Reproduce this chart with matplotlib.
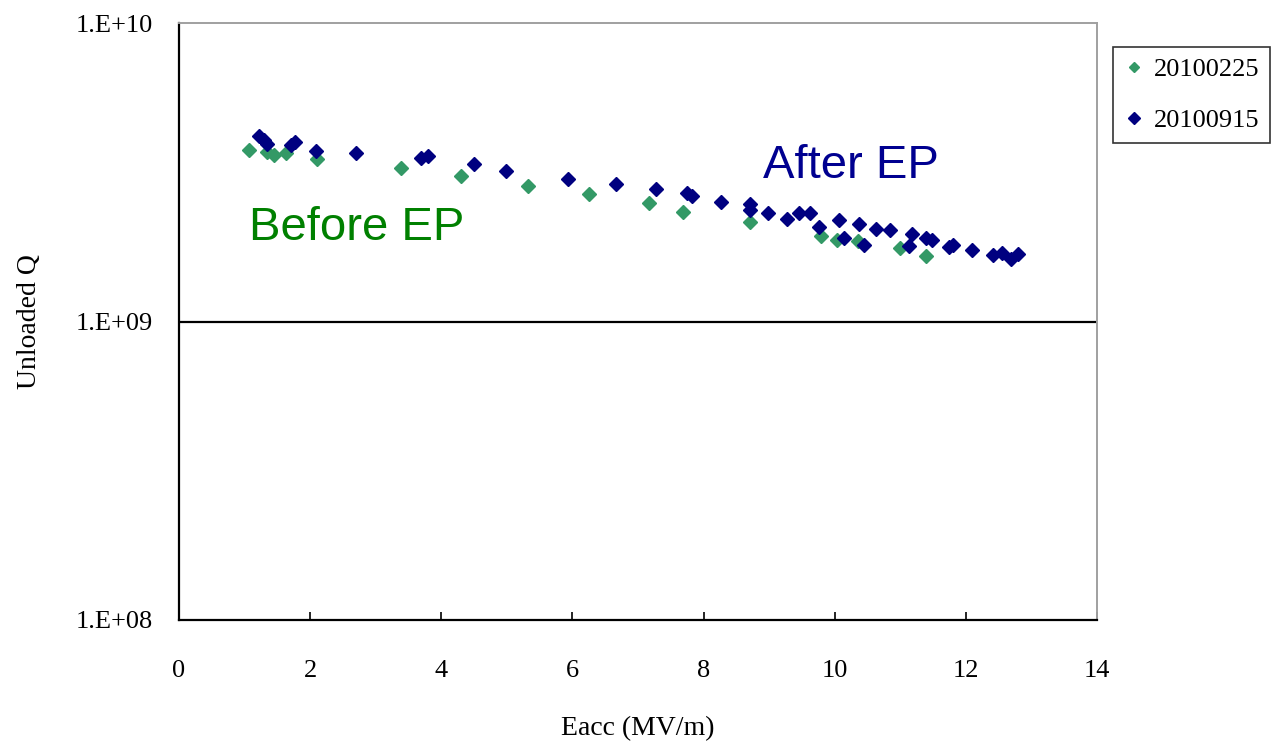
import numpy as np
import matplotlib as mpl
mpl.use('agg')
import matplotlib.pyplot as plt

## data
eacc_0225 = [1.07, 1.35, 1.45, 1.63, 2.10, 3.38, 4.30, 5.33, 6.25, 7.17, 7.68,
             8.71, 9.79, 10.04, 10.36, 11.00, 11.40]
q_0225 = [3.75e9, 3.70e9, 3.61e9, 3.68e9, 3.49e9, 3.28e9, 3.07e9, 2.85e9, 2.68e9,
          2.49e9, 2.33e9, 2.16e9, 1.93e9, 1.875e9, 1.86e9, 1.76e9, 1.66e9]

eacc_0915 = [1.22, 1.29, 1.35, 1.71, 1.77, 2.09, 2.70, 3.69, 3.80, 4.50, 4.98,
             5.93, 6.67, 7.27, 7.75, 7.82, 8.26, 8.71, 8.71, 8.98, 9.28, 9.45,
             9.63, 9.76, 10.07, 10.14, 10.37, 10.44, 10.63, 10.85, 11.14, 11.18,
             11.40, 11.48, 11.75, 11.81, 12.09, 12.41, 12.55, 12.69, 12.80]
q_0915 = [4.19e9, 4.05e9, 3.93e9, 3.91e9, 4.00e9, 3.73e9, 3.68e9, 3.52e9, 3.58e9,
          3.36e9, 3.20e9, 3.00e9, 2.88e9, 2.78e9, 2.69e9, 2.63e9, 2.51e9, 2.48e9,
          2.36e9, 2.31e9, 2.20e9, 2.31e9, 2.31e9, 2.08e9, 2.18e9, 1.91e9, 2.12e9,
          1.81e9, 2.04e9, 2.02e9, 1.79e9, 1.96e9, 1.90e9, 1.88e9, 1.78e9, 1.81e9,
          1.73e9, 1.67e9, 1.70e9, 1.62e9, 1.68e9]

labels = ['20100225', '20100915']
xticks = [0, 2, 4, 6, 8, 10, 12, 14]
yticks = [1e8, 1e9, 1e10]
ytick_labels = ['1.E+08', '1.E+09', '1.E+10']

serif = 'Liberation Serif'

##--##--##--  create figure  --##--##--##
fig = plt.figure(dpi=100, figsize=(12.83, 7.45))
ax = fig.add_axes([0.1395, 0.1678, 0.7155, 0.8013])

ax.plot(eacc_0225, q_0225, linestyle='none', marker='D', ms=6.9,
        color='#339966', label=labels[0], zorder=3)
ax.plot(eacc_0915, q_0915, linestyle='none', marker='D', ms=7.2,
        color='#000080', label=labels[1], zorder=4)

ax.set_yscale('log')
ax.set_xlim(0, 14)
ax.set_ylim(1e8, 1e10)
ax.set_xticks(xticks)
ax.set_yticks(yticks)
ax.set_yticklabels(ytick_labels)
ax.yaxis.set_minor_locator(mpl.ticker.NullLocator())
ax.axhline(1e9, color='black', lw=1.6, zorder=2)

ax.tick_params(axis='x', direction='in', length=6, width=1.2, pad=29,
               labelsize=19)
ax.tick_params(axis='y', length=0, pad=19, labelsize=19)
for lab in ax.get_xticklabels() + ax.get_yticklabels():
    lab.set_fontfamily(serif)

ax.spines['left'].set_linewidth(1.6)
ax.spines['bottom'].set_linewidth(1.6)
ax.spines['top'].set_color('#a0a0a0')
ax.spines['right'].set_color('#a0a0a0')
ax.spines['top'].set_linewidth(1.4)
ax.spines['right'].set_linewidth(1.4)

ax.set_xlabel('Eacc (MV/m)', fontsize=20, fontfamily=serif, labelpad=24)
ax.set_ylabel('Unloaded Q', fontsize=20, fontfamily=serif, labelpad=24)

ax.text(1.07, 1.87e9, 'Before EP', fontsize=34, color='#008000',
        fontfamily='Liberation Sans', va='baseline')
ax.text(8.9, 3.03e9, 'After EP', fontsize=34, color='#000090',
        fontfamily='Liberation Sans', va='baseline')

leg = ax.legend(loc='upper left', bbox_to_anchor=(1.0174, 0.96),
                frameon=True, fancybox=False, edgecolor='black',
                prop={'family': serif, 'size': 19}, handlelength=0.8,
                handletextpad=0.35, borderpad=0.4, labelspacing=1.05,
                borderaxespad=0, markerscale=0.8)
leg.get_frame().set_linewidth(1.2)

fig.savefig('out.png', dpi=100)
